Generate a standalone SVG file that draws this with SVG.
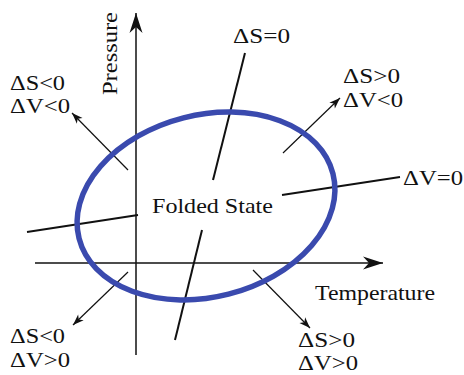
<svg xmlns="http://www.w3.org/2000/svg" width="464" height="375" viewBox="0 0 464 375">
  <style>
    .t { font-family: "Liberation Serif", "Times New Roman", serif; font-size: 21px; fill: #111; }
    .ax { stroke: #111; stroke-width: 1.5; fill: none; }
    .ln { stroke: #111; stroke-width: 2; fill: none; }
    .ar { stroke: #111; stroke-width: 1.2; fill: none; }
  </style>
  <defs>
    <marker id="bigArrow" markerUnits="userSpaceOnUse" markerWidth="24" markerHeight="16" viewBox="-22 -8 24 16" refX="0" refY="0" orient="auto">
      <path d="M0,0 L-20,-6.5 L-14,0 L-20,6.5 Z" fill="#111"/>
    </marker>
    <marker id="smallArrow" markerUnits="userSpaceOnUse" markerWidth="14" markerHeight="10" viewBox="-13 -5 14 10" refX="0" refY="0" orient="auto">
      <path d="M0,0 L-11,-4 L-8,0 L-11,4 Z" fill="#111"/>
    </marker>
  </defs>
  <rect width="464" height="375" fill="#fff"/>

  <g id="connectors">
    <line class="ax" x1="136" y1="355" x2="136" y2="13" marker-end="url(#bigArrow)"/>
    <line class="ax" x1="35" y1="263" x2="383" y2="263" marker-end="url(#bigArrow)"/>
    <line class="ln" x1="245" y1="53" x2="213" y2="180"/>
    <line class="ln" x1="202" y1="230" x2="175" y2="340"/>
    <line class="ln" x1="27" y1="232" x2="138" y2="215"/>
    <line class="ln" x1="282" y1="195" x2="400" y2="177"/>
    <line class="ar" x1="128" y1="170" x2="72" y2="113" marker-end="url(#smallArrow)"/>
    <line class="ar" x1="283" y1="153" x2="340" y2="98" marker-end="url(#smallArrow)"/>
    <line class="ar" x1="128" y1="272" x2="73" y2="325" marker-end="url(#smallArrow)"/>
    <line class="ar" x1="253" y1="270" x2="310" y2="328" marker-end="url(#smallArrow)"/>
  </g>

  <g id="folded-state">
    <ellipse cx="206" cy="206" rx="131" ry="91" transform="rotate(-14.3 206 206)" fill="none" stroke="#3a4aae" stroke-width="5.5"/>
    <text class="t" x="152" y="213" textLength="121" lengthAdjust="spacingAndGlyphs" style="font-size:22px">Folded State</text>
  </g>

  <g id="pressure-label">
    <text class="t" transform="translate(117,95) rotate(-90)" textLength="83" lengthAdjust="spacingAndGlyphs" style="font-size:22px">Pressure</text>
  </g>
  <g id="temperature-label">
    <text class="t" x="315" y="300" textLength="120" lengthAdjust="spacingAndGlyphs" style="font-size:22px">Temperature</text>
  </g>
  <g id="dS-zero">
    <text class="t" x="233" y="43" textLength="57" lengthAdjust="spacingAndGlyphs">ΔS=0</text>
  </g>
  <g id="dV-zero">
    <text class="t" x="403" y="185" textLength="60" lengthAdjust="spacingAndGlyphs">ΔV=0</text>
  </g>
  <g id="upper-left">
    <text class="t" x="10" y="90" textLength="55" lengthAdjust="spacingAndGlyphs">ΔS&lt;0</text>
    <text class="t" x="10" y="113" textLength="60" lengthAdjust="spacingAndGlyphs">ΔV&lt;0</text>
  </g>
  <g id="upper-right">
    <text class="t" x="343" y="83" textLength="57" lengthAdjust="spacingAndGlyphs">ΔS&gt;0</text>
    <text class="t" x="343" y="107" textLength="60" lengthAdjust="spacingAndGlyphs">ΔV&lt;0</text>
  </g>
  <g id="lower-left">
    <text class="t" x="10" y="343" textLength="55" lengthAdjust="spacingAndGlyphs">ΔS&lt;0</text>
    <text class="t" x="10" y="367" textLength="60" lengthAdjust="spacingAndGlyphs">ΔV&gt;0</text>
  </g>
  <g id="lower-right">
    <text class="t" x="298" y="347" textLength="57" lengthAdjust="spacingAndGlyphs">ΔS&gt;0</text>
    <text class="t" x="298" y="370" textLength="60" lengthAdjust="spacingAndGlyphs">ΔV&gt;0</text>
  </g>
</svg>
